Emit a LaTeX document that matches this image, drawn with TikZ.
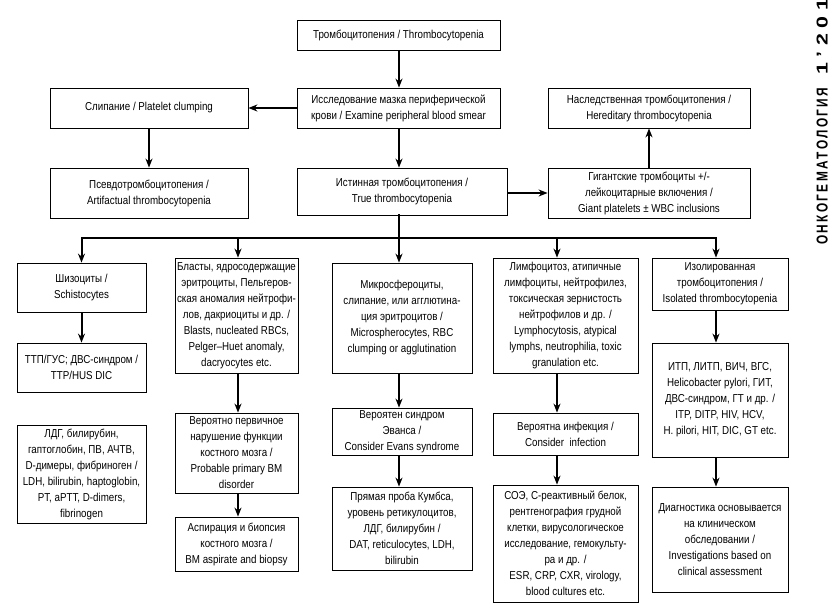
\documentclass[tikz,border=0pt]{standalone}
\usepackage{fontspec}
\setmainfont{Liberation Sans}[FakeStretch=0.85]
\newfontfamily\journalfont{Liberation Sans}[FakeStretch=0.75, LetterSpace=15]
\newfontfamily\journalnum{Liberation Sans}[FakeStretch=0.95, LetterSpace=25]
\usetikzlibrary{arrows.meta}
\begin{document}
\begin{tikzpicture}[x=1pt,y=-1pt,
  box/.style={draw=black, line width=0.8pt, rectangle, inner sep=0pt, align=center,
    font=\fontsize{11.5}{16}\selectfont},
  arr/.style={line width=2pt, -{Stealth[length=9pt,width=7pt]}},
  busline/.style={line width=2pt, line cap=rect}]
\useasboundingbox (0,0) rectangle (838,615);
\fill[white] (0,0) rectangle (838,615);

% top part
\node[box, minimum width=203pt, minimum height=30pt] (top) at (398.5,35) {Тромбоцитопения / Thrombocytopenia};
\node[box, minimum width=203pt, minimum height=40pt] (smear) at (398.5,108) {Исследование мазка периферической\\крови / Examine peripheral blood smear};
\node[box, minimum width=210pt, minimum height=47pt] (true) at (402,191.5) {Истинная тромбоцитопения /\\True thrombocytopenia};
\node[box, minimum width=198pt, minimum height=40pt] (clump) at (149,108) {Слипание / Platelet clumping};
\node[box, minimum width=198pt, minimum height=50pt] (pseudo) at (149,193) {Псевдотромбоцитопения /\\Artifactual thrombocytopenia};
\node[box, minimum width=202pt, minimum height=40pt] (hered) at (649,108) {Наследственная тромбоцитопения /\\Hereditary thrombocytopenia};
\node[box, minimum width=202pt, minimum height=50pt] (giant) at (649,193) {Гигантские тромбоциты +/-\\лейкоцитарные включения /\\Giant platelets ± WBC inclusions};

% column 1
\node[box, minimum width=129pt, minimum height=49pt] (c1a) at (81.5,287.5) {Шизоциты /\\Schistocytes};
\node[box, minimum width=129pt, minimum height=49pt] (c1b) at (81.5,367.5) {ТТП/ГУС; ДВС-синдром /\\TTP/HUS DIC};
\node[box, minimum width=129pt, minimum height=98pt] (c1c) at (81.5,474) {ЛДГ, билирубин,\\гаптоглобин, ПВ, АЧТВ,\\D-димеры, фибриноген /\\LDH, bilirubin, haptoglobin,\\PT, aPTT, D-dimers,\\fibrinogen};

% column 2
\node[box, minimum width=123pt, minimum height=115pt] (c2a) at (236.5,315.5) {Бласты, ядросодержащие\\эритроциты, Пельгеров-\\ская аномалия нейтрофи-\\лов, дакриоциты и др. /\\Blasts, nucleated RBCs,\\Pelger–Huet anomaly,\\dacryocytes etc.};
\node[box, minimum width=123pt, minimum height=80pt] (c2b) at (236.5,453) {Вероятно первичное\\нарушение функции\\костного мозга /\\Probable primary BM\\disorder};
\node[box, minimum width=123pt, minimum height=54pt] (c2c) at (236.5,544) {Аспирация и биопсия\\костного мозга /\\BM aspirate and biopsy};

% column 3
\node[box, minimum width=140pt, minimum height=110pt] (c3a) at (402,318) {Микросфероциты,\\слипание, или агглютина-\\ция эритроцитов /\\Microspherocytes, RBC\\clumping or agglutination};
\node[box, minimum width=140pt, minimum height=47pt] (c3b) at (402,431.5) {Вероятен синдром\\Эванса /\\Consider Evans syndrome};
\node[box, minimum width=140pt, minimum height=83pt] (c3c) at (402,528.5) {Прямая проба Кумбса,\\уровень ретикулоцитов,\\ЛДГ, билирубин /\\DAT, reticulocytes, LDH,\\bilirubin};

% column 4
\node[box, minimum width=145pt, minimum height=115pt] (c4a) at (565.5,315.5) {Лимфоцитоз, атипичные\\лимфоциты, нейтрофилез,\\токсическая зернистость\\нейтрофилов и др. /\\Lymphocytosis, atypical\\lymphs, neutrophilia, toxic\\granulation etc.};
\node[box, minimum width=145pt, minimum height=42pt] (c4b) at (565.5,434) {Вероятна инфекция /\\Consider\ \ infection};
\node[box, minimum width=145pt, minimum height=117pt] (c4c) at (565.5,543.5) {СОЭ, С-реактивный белок,\\рентгенография грудной\\клетки, вирусологическое\\исследование, гемокульту-\\ра и др. /\\ESR, CRP, CXR, virology,\\blood cultures etc.};

% column 5
\node[box, minimum width=136pt, minimum height=52pt] (c5a) at (720,284) {Изолированная\\тромбоцитопения /\\Isolated thrombocytopenia};
\node[box, minimum width=136pt, minimum height=114pt] (c5b) at (720,400) {ИТП, ЛИТП, ВИЧ, ВГС,\\Helicobacter pylori, ГИТ,\\ДВС-синдром, ГТ и др. /\\ITP, DITP, HIV, HCV,\\H. pilori, HIT, DIC, GT etc.};
\node[box, minimum width=136pt, minimum height=105pt] (c5c) at (720,539.5) {Диагностика основывается\\на клиническом\\обследовании /\\Investigations based on\\clinical assessment};

% journal label
\node[rotate=90, anchor=south west, inner sep=0pt] (journal) at (828,245)
  {\resizebox{157pt}{11pt}{\journalfont\bfseries ОНКОГЕМАТОЛОГИЯ}\hspace{13pt}\resizebox{76pt}{11pt}{\journalnum\bfseries 1’201}};

% arrow columns
\coordinate (a3) at (399,0);
\coordinate (b1) at (81.5,238);
\coordinate (b2) at (238,238);
\coordinate (b3) at (399,238);
\coordinate (b4) at (557,238);
\coordinate (b5) at (716,238);

% connectors: top part
\draw[arr] (top.south -| a3) -- (smear.north -| a3);
\draw[arr] (smear.south -| a3) -- (true.north -| a3);
\draw[arr] (smear.west) -- (clump.east);
\draw[arr] (clump.south) -- (pseudo.north);
\draw[arr] (true.east |- giant.west) -- (giant.west);
\draw[arr] (giant.north) -- (hered.south);

% bus
\draw[busline] (b1) -- (b5);
\draw[busline] (true.south -| b3) -- (b3);
\draw[arr] (b1) -- (b1 |- c1a.north);
\draw[arr] (b2) -- (b2 |- c2a.north);
\draw[arr] (b3) -- (b3 |- c3a.north);
\draw[arr] (b4) -- (b4 |- c4a.north);
\draw[arr] (b5) -- (b5 |- c5a.north);

% column connectors
\draw[arr] (c1a.south -| b1) -- (c1b.north -| b1);
\draw[arr] (c2a.south -| b2) -- (c2b.north -| b2);
\draw[arr] (c2b.south -| b2) -- (c2c.north -| b2);
\draw[arr] (c3a.south -| b3) -- (c3b.north -| b3);
\draw[arr] (c3b.south -| b3) -- (c3c.north -| b3);
\draw[arr] (c4a.south -| b4) -- (c4b.north -| b4);
\draw[arr] (c4b.south -| b4) -- (c4c.north -| b4);
\draw[arr] (c5a.south -| b5) -- (c5b.north -| b5);
\draw[arr] (c5b.south -| b5) -- (c5c.north -| b5);
\end{tikzpicture}
\end{document}
